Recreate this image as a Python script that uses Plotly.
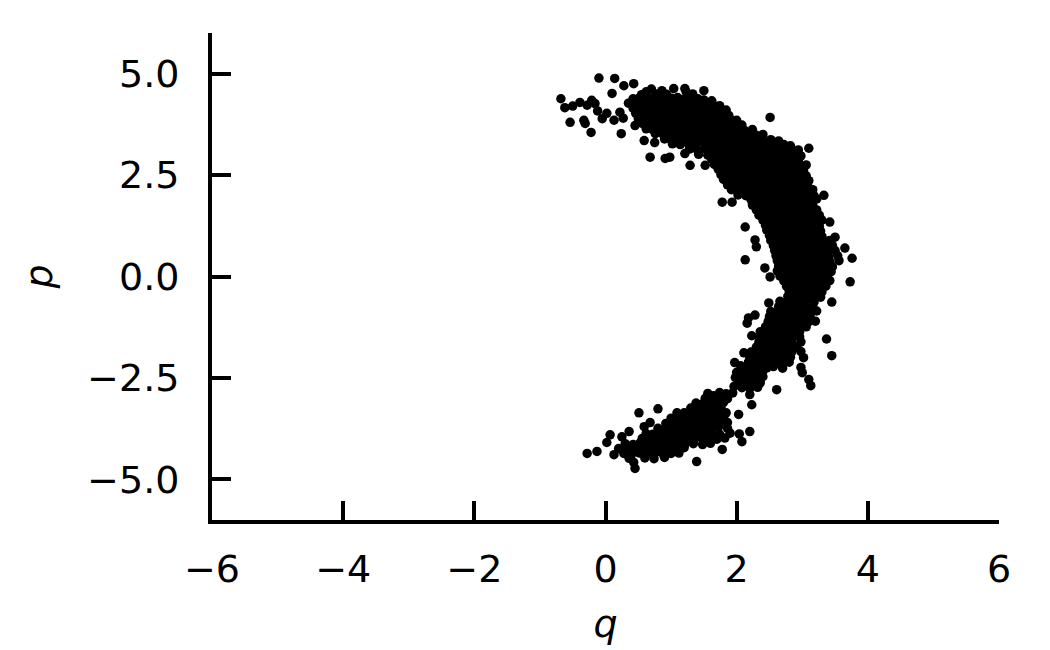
import plotly.graph_objects as go

# Samples, grouped by region of the crescent (q, p)
upper_arm = [
    (-0.68, 4.38), (-0.62, 4.16), (-0.54, 3.80), (-0.50, 4.20), (-0.39, 4.29), (-0.33, 3.85),
    (-0.31, 3.77), (-0.28, 4.22), (-0.22, 3.55), (-0.21, 4.34), (-0.16, 4.26), (-0.12, 4.08),
    (-0.10, 4.89), (-0.05, 3.89), (0.02, 4.02), (0.10, 4.51), (0.13, 3.85), (0.14, 4.88),
    (0.22, 4.05), (0.24, 3.52), (0.27, 3.90), (0.28, 4.70), (0.43, 4.75), (0.45, 3.72),
    (0.59, 3.35), (0.68, 2.94), (0.75, 3.30), (0.91, 2.91), (0.98, 2.94), (1.04, 4.63),
    (1.21, 4.63), (1.21, 3.03), (1.29, 2.74), (1.50, 4.58), (1.52, 2.74), (2.51, 3.92),
    (3.10, 3.16), (1.78, 1.83), (1.93, 1.83), (3.33, 2.00),
    (0.55, 4.48), (0.62, 4.55), (0.70, 4.62), (0.78, 4.50), (0.86, 4.58), (0.93, 4.49),
    (1.23, 4.55), (1.33, 4.50),
    (0.42, 4.38), (0.52, 4.41), (0.61, 4.36), (0.71, 4.40), (0.80, 4.42), (0.90, 4.37),
    (1.01, 4.39), (1.10, 4.41), (1.19, 4.36), (1.30, 4.40), (1.41, 4.38), (1.50, 4.35), (1.62, 4.33),
    (0.35, 4.27), (0.45, 4.25), (0.55, 4.29), (0.64, 4.26), (0.74, 4.28), (0.84, 4.24),
    (0.94, 4.27), (1.04, 4.29), (1.14, 4.25), (1.24, 4.28), (1.34, 4.26), (1.44, 4.24),
    (1.54, 4.27), (1.64, 4.23), (1.74, 4.21),
    (0.42, 4.15), (0.52, 4.13), (0.62, 4.16), (0.72, 4.14), (0.82, 4.17), (0.92, 4.13),
    (1.02, 4.15), (1.12, 4.16), (1.22, 4.13), (1.32, 4.15), (1.42, 4.17), (1.52, 4.13),
    (1.62, 4.15), (1.72, 4.12), (1.84, 4.10),
    (0.46, 4.02), (0.56, 4.00), (0.66, 4.03), (0.76, 4.01), (0.86, 4.04), (0.96, 4.00),
    (1.06, 4.02), (1.16, 4.03), (1.26, 4.00), (1.36, 4.02), (1.46, 4.04), (1.56, 4.00),
    (1.66, 4.02), (1.76, 3.99), (1.88, 3.97),
    (0.50, 3.89), (0.60, 3.87), (0.70, 3.90), (0.80, 3.88), (0.90, 3.91), (1.00, 3.87),
    (1.10, 3.89), (1.20, 3.90), (1.30, 3.87), (1.40, 3.89), (1.50, 3.91), (1.60, 3.87),
    (1.70, 3.89), (1.80, 3.86), (1.90, 3.88), (2.00, 3.85),
    (0.56, 3.77), (0.66, 3.75), (0.76, 3.78), (0.86, 3.76), (0.96, 3.79), (1.06, 3.75),
    (1.16, 3.77), (1.26, 3.78), (1.36, 3.75), (1.46, 3.77), (1.56, 3.79), (1.66, 3.75),
    (1.76, 3.77), (1.86, 3.74), (1.96, 3.76), (2.08, 3.73),
    (0.62, 3.64), (0.72, 3.62), (0.82, 3.65), (0.92, 3.63), (1.02, 3.66), (1.12, 3.62),
    (1.22, 3.64), (1.32, 3.65), (1.42, 3.62), (1.52, 3.64), (1.62, 3.66), (1.72, 3.62),
    (1.82, 3.64), (1.92, 3.61), (2.02, 3.63), (2.12, 3.60), (2.24, 3.62),
    (0.76, 3.52), (0.88, 3.50), (0.98, 3.53), (1.08, 3.51), (1.18, 3.54), (1.28, 3.50),
    (1.38, 3.52), (1.48, 3.53), (1.58, 3.50), (1.68, 3.52), (1.78, 3.54), (1.88, 3.50),
    (1.98, 3.52), (2.08, 3.49), (2.18, 3.51), (2.30, 3.48), (2.40, 3.50),
    (0.90, 3.39), (1.00, 3.37), (1.10, 3.40), (1.20, 3.38), (1.30, 3.41), (1.40, 3.37),
    (1.50, 3.39), (1.60, 3.40), (1.70, 3.37), (1.80, 3.39), (1.90, 3.41), (2.00, 3.37),
    (2.10, 3.39), (2.20, 3.36), (2.30, 3.38), (2.40, 3.35), (2.52, 3.37), (2.64, 3.34),
    (1.02, 3.27), (1.14, 3.25), (1.26, 3.28), (1.38, 3.26), (1.50, 3.29), (1.60, 3.25),
    (1.70, 3.27), (1.80, 3.28), (1.90, 3.25), (2.00, 3.27), (2.10, 3.29), (2.20, 3.25),
    (2.30, 3.27), (2.40, 3.24), (2.50, 3.26), (2.60, 3.23), (2.72, 3.25), (2.82, 3.22),
    (1.28, 3.14), (1.40, 3.12), (1.52, 3.15), (1.62, 3.13), (1.72, 3.16), (1.82, 3.12),
    (1.92, 3.14), (2.02, 3.15), (2.12, 3.12), (2.22, 3.14), (2.32, 3.16), (2.42, 3.12),
    (2.52, 3.14), (2.62, 3.11), (2.72, 3.13), (2.84, 3.10), (2.94, 3.12),
    (1.42, 3.01), (1.56, 2.99), (1.66, 3.02), (1.76, 3.00), (1.86, 3.03), (1.96, 2.99),
    (2.06, 3.01), (2.16, 3.02), (2.26, 2.99), (2.36, 3.01), (2.46, 3.03), (2.56, 2.99),
    (2.66, 3.01), (2.76, 2.98), (2.88, 3.00), (2.98, 2.97),
    (1.62, 2.89), (1.72, 2.87), (1.82, 2.90), (1.92, 2.88), (2.02, 2.91), (2.12, 2.87),
    (2.22, 2.89), (2.32, 2.90), (2.42, 2.87), (2.52, 2.89), (2.62, 2.91), (2.72, 2.87),
    (2.82, 2.89), (2.94, 2.86),
    (1.66, 2.76), (1.76, 2.74), (1.86, 2.77), (1.96, 2.75), (2.06, 2.78), (2.16, 2.74),
    (2.26, 2.76), (2.36, 2.77), (2.46, 2.74), (2.56, 2.76), (2.66, 2.78), (2.76, 2.74),
    (2.86, 2.76), (2.98, 2.73), (3.06, 2.75),
    (1.72, 2.64), (1.82, 2.62), (1.92, 2.65), (2.02, 2.63), (2.12, 2.66), (2.22, 2.62),
    (2.32, 2.64), (2.42, 2.65), (2.52, 2.62), (2.62, 2.64), (2.72, 2.66), (2.82, 2.62),
    (2.92, 2.64), (3.02, 2.61),
    (1.76, 2.51), (1.86, 2.49), (1.96, 2.52), (2.06, 2.50), (2.16, 2.53), (2.26, 2.49),
    (2.36, 2.51), (2.46, 2.52), (2.56, 2.49), (2.66, 2.51), (2.76, 2.53), (2.86, 2.49),
    (2.96, 2.51), (3.06, 2.48),
    (1.80, 2.39), (1.92, 2.37), (2.02, 2.40), (2.12, 2.38), (2.22, 2.41), (2.32, 2.37),
    (2.42, 2.39), (2.52, 2.40), (2.62, 2.37), (2.72, 2.39), (2.82, 2.41), (2.92, 2.37),
    (3.02, 2.39), (3.10, 2.36),
    (1.86, 2.26), (1.98, 2.24), (2.08, 2.27), (2.18, 2.25), (2.28, 2.28), (2.38, 2.24),
    (2.48, 2.26), (2.58, 2.27), (2.68, 2.24), (2.78, 2.26), (2.88, 2.28), (2.98, 2.24), (3.08, 2.26),
    (1.92, 2.14), (2.04, 2.12), (2.16, 2.15), (2.26, 2.13), (2.36, 2.16), (2.46, 2.12),
    (2.56, 2.14), (2.66, 2.15), (2.76, 2.12), (2.86, 2.14), (2.96, 2.16), (3.06, 2.12), (3.16, 2.14),
    (2.02, 2.01), (2.14, 1.99), (2.26, 2.02), (2.36, 2.00), (2.46, 2.03), (2.56, 1.99),
    (2.66, 2.01), (2.76, 2.02), (2.86, 1.99), (2.96, 2.01), (3.06, 2.03), (3.18, 1.99),
    (2.22, 1.89), (2.32, 1.87), (2.42, 1.90), (2.52, 1.88), (2.62, 1.91), (2.72, 1.87),
    (2.82, 1.89), (2.92, 1.90), (3.02, 1.87), (3.12, 1.89), (3.22, 1.91),
    (2.24, 1.76), (2.36, 1.74), (2.46, 1.77), (2.56, 1.75), (2.66, 1.78), (2.76, 1.74),
    (2.86, 1.76), (2.96, 1.77), (3.06, 1.74), (3.16, 1.76),
    (2.30, 1.64), (2.40, 1.62), (2.50, 1.65), (2.60, 1.63), (2.70, 1.66), (2.80, 1.62),
    (2.90, 1.64), (3.00, 1.65), (3.10, 1.62), (3.22, 1.64),
    (2.34, 1.51), (2.44, 1.49), (2.54, 1.52), (2.64, 1.50), (2.74, 1.53), (2.84, 1.49),
    (2.94, 1.51), (3.04, 1.52), (3.14, 1.49), (3.26, 1.51),
]

middle = [
    (2.13, 1.22), (3.42, 1.34), (3.50, 0.97), (2.28, 0.90), (3.65, 0.70), (2.30, 0.73),
    (2.13, 0.41), (3.76, 0.45), (2.43, 0.21), (2.51, -0.01), (3.73, -0.13), (2.49, -0.65),
    (3.45, -0.63), (2.28, -0.95), (2.18, -1.02), (2.16, -1.15), (2.23, -1.46), (3.37, -1.54),
    (2.11, -1.88), (3.45, -1.95), (1.97, -2.12), (2.06, -2.20), (3.00, -2.37), (3.10, -2.54),
    (1.96, -2.71), (2.61, -2.79), (3.13, -2.69),
    (2.40, 1.39), (2.50, 1.37), (2.60, 1.40), (2.70, 1.38), (2.80, 1.41), (2.90, 1.37),
    (3.00, 1.39), (3.10, 1.40), (3.20, 1.37), (3.30, 1.39),
    (2.44, 1.26), (2.56, 1.24), (2.66, 1.27), (2.76, 1.25), (2.86, 1.28), (2.96, 1.24),
    (3.06, 1.26), (3.16, 1.27), (3.26, 1.24),
    (2.46, 1.14), (2.56, 1.12), (2.66, 1.15), (2.76, 1.13), (2.86, 1.16), (2.96, 1.12),
    (3.06, 1.14), (3.16, 1.15), (3.28, 1.12),
    (2.50, 1.01), (2.60, 0.99), (2.70, 1.02), (2.80, 1.00), (2.90, 1.03), (3.00, 0.99),
    (3.10, 1.01), (3.20, 1.02), (3.30, 0.99),
    (2.52, 0.89), (2.62, 0.87), (2.72, 0.90), (2.82, 0.88), (2.92, 0.91), (3.02, 0.87),
    (3.12, 0.89), (3.22, 0.90), (3.32, 0.87), (3.42, 0.89),
    (2.56, 0.76), (2.66, 0.74), (2.76, 0.77), (2.86, 0.75), (2.96, 0.78), (3.06, 0.74),
    (3.16, 0.76), (3.26, 0.77), (3.36, 0.74), (3.46, 0.76),
    (2.58, 0.64), (2.68, 0.62), (2.78, 0.65), (2.88, 0.63), (2.98, 0.66), (3.08, 0.62),
    (3.18, 0.64), (3.28, 0.65), (3.38, 0.62), (3.50, 0.64),
    (2.60, 0.51), (2.70, 0.49), (2.80, 0.52), (2.90, 0.50), (3.00, 0.53), (3.10, 0.49),
    (3.20, 0.51), (3.30, 0.52), (3.40, 0.49), (3.54, 0.51),
    (2.62, 0.39), (2.72, 0.37), (2.82, 0.40), (2.92, 0.38), (3.02, 0.41), (3.12, 0.37),
    (3.22, 0.39), (3.32, 0.40), (3.42, 0.37), (3.56, 0.39),
    (2.64, 0.26), (2.74, 0.24), (2.84, 0.27), (2.94, 0.25), (3.04, 0.28), (3.14, 0.24),
    (3.24, 0.26), (3.34, 0.27), (3.46, 0.24),
    (2.62, 0.14), (2.72, 0.12), (2.82, 0.15), (2.92, 0.13), (3.02, 0.16), (3.12, 0.12),
    (3.22, 0.14), (3.32, 0.15), (3.44, 0.12),
    (2.66, 0.01), (2.76, -0.01), (2.86, 0.02), (2.96, 0.00), (3.06, 0.03), (3.16, -0.01),
    (3.26, 0.01), (3.38, 0.02),
    (2.72, -0.11), (2.82, -0.13), (2.92, -0.10), (3.02, -0.12), (3.12, -0.09), (3.22, -0.13),
    (3.32, -0.11), (3.42, -0.10),
    (2.76, -0.24), (2.86, -0.26), (2.96, -0.23), (3.06, -0.25), (3.16, -0.22), (3.26, -0.26),
    (3.36, -0.24),
    (2.80, -0.36), (2.90, -0.38), (3.00, -0.35), (3.10, -0.37), (3.20, -0.34), (3.30, -0.38),
    (2.78, -0.49), (2.88, -0.51), (2.98, -0.48), (3.08, -0.50), (3.18, -0.47), (3.28, -0.51),
    (2.66, -0.61), (2.76, -0.63), (2.86, -0.60), (2.96, -0.62), (3.06, -0.59), (3.18, -0.63),
    (2.64, -0.74), (2.74, -0.76), (2.84, -0.73), (2.94, -0.75), (3.04, -0.72), (3.16, -0.76),
    (2.52, -0.86), (2.62, -0.88), (2.72, -0.85), (2.82, -0.87), (2.92, -0.84), (3.02, -0.88),
    (3.14, -0.86), (3.22, -0.85),
    (2.50, -0.99), (2.60, -1.01), (2.70, -0.98), (2.80, -1.00), (2.90, -0.97), (3.00, -1.01),
    (3.12, -0.99),
    (2.48, -1.11), (2.58, -1.13), (2.68, -1.10), (2.78, -1.12), (2.88, -1.09), (2.98, -1.13),
    (3.10, -1.11), (3.20, -1.10),
    (2.44, -1.24), (2.54, -1.26), (2.64, -1.23), (2.74, -1.25), (2.84, -1.22), (2.94, -1.26),
    (3.06, -1.24),
    (2.36, -1.36), (2.46, -1.38), (2.56, -1.35), (2.66, -1.37), (2.76, -1.34), (2.86, -1.38),
    (2.96, -1.36),
    (2.34, -1.49), (2.44, -1.51), (2.54, -1.48), (2.64, -1.50), (2.74, -1.47), (2.84, -1.51),
    (2.96, -1.49),
    (2.34, -1.61), (2.44, -1.63), (2.54, -1.60), (2.64, -1.62), (2.74, -1.59), (2.84, -1.63),
    (2.98, -1.61),
    (2.30, -1.74), (2.40, -1.76), (2.50, -1.73), (2.60, -1.75), (2.70, -1.72), (2.80, -1.76),
    (2.92, -1.74),
    (2.22, -1.86), (2.32, -1.88), (2.44, -1.85), (2.56, -1.87), (2.66, -1.84), (2.76, -1.88),
    (2.84, -1.86), (2.98, -1.85),
    (2.20, -1.99), (2.30, -2.01), (2.40, -1.98), (2.50, -2.00), (2.62, -1.97), (2.72, -2.01),
    (2.82, -1.99), (3.02, -2.00),
    (2.18, -2.11), (2.28, -2.13), (2.38, -2.10), (2.48, -2.12), (2.58, -2.09), (2.68, -2.13),
    (2.80, -2.11),
    (2.16, -2.24), (2.26, -2.26), (2.36, -2.23), (2.46, -2.25), (2.56, -2.22), (2.70, -2.26),
    (2.98, -2.24),
    (2.00, -2.36), (2.10, -2.38), (2.20, -2.35), (2.30, -2.37), (2.40, -2.34),
    (1.98, -2.49), (2.08, -2.51), (2.18, -2.48), (2.28, -2.50), (2.40, -2.47),
    (2.04, -2.61), (2.14, -2.63), (2.24, -2.60), (2.36, -2.62),
    (2.08, -2.74), (2.20, -2.76), (2.32, -2.73),
]

lower_arm = [
    (1.65, -2.94), (2.20, -2.91), (1.52, -3.08), (2.23, -3.16), (0.51, -3.36), (0.80, -3.26),
    (1.09, -3.36), (2.03, -3.40), (0.59, -3.70), (0.68, -3.60), (0.07, -3.90), (0.36, -3.82),
    (0.25, -3.95), (2.20, -3.82), (0.02, -4.09), (2.08, -4.07), (1.78, -4.26), (-0.28, -4.36),
    (-0.13, -4.31), (0.13, -4.39), (0.28, -4.26), (0.43, -4.58), (0.45, -4.73), (1.39, -4.56),
    (1.56, -2.88), (1.74, -2.86), (1.84, -2.89), (1.94, -2.87),
    (1.52, -3.00), (1.62, -3.02), (1.72, -2.99), (1.86, -3.01),
    (1.38, -3.12), (1.48, -3.14), (1.60, -3.11), (1.70, -3.13), (1.80, -3.10),
    (1.30, -3.24), (1.42, -3.26), (1.54, -3.23), (1.64, -3.25), (1.76, -3.22),
    (1.20, -3.36), (1.30, -3.38), (1.40, -3.35), (1.50, -3.37), (1.60, -3.34), (1.72, -3.38),
    (1.84, -3.36),
    (1.00, -3.49), (1.12, -3.51), (1.24, -3.48), (1.34, -3.50), (1.44, -3.47), (1.54, -3.51),
    (1.66, -3.49), (1.80, -3.48),
    (0.92, -3.62), (1.02, -3.64), (1.12, -3.61), (1.22, -3.63), (1.32, -3.60), (1.42, -3.64),
    (1.52, -3.62), (1.62, -3.61), (1.74, -3.63), (1.86, -3.60),
    (0.80, -3.74), (0.90, -3.76), (1.00, -3.73), (1.10, -3.75), (1.20, -3.72), (1.30, -3.76),
    (1.40, -3.74), (1.50, -3.73), (1.60, -3.75), (1.72, -3.72), (1.86, -3.74),
    (0.62, -3.87), (0.72, -3.89), (0.82, -3.86), (0.92, -3.88), (1.02, -3.85), (1.12, -3.89),
    (1.22, -3.87), (1.32, -3.86), (1.42, -3.88), (1.52, -3.85), (1.62, -3.87), (1.74, -3.89),
    (1.90, -3.86), (2.04, -3.88),
    (0.56, -3.99), (0.66, -4.01), (0.76, -3.98), (0.86, -4.00), (0.96, -3.97), (1.06, -4.01),
    (1.16, -3.99), (1.26, -3.98), (1.36, -4.00), (1.46, -3.97), (1.58, -3.99), (1.70, -4.01),
    (1.82, -3.98),
    (0.30, -4.12), (0.42, -4.14), (0.52, -4.11), (0.62, -4.13), (0.72, -4.10), (0.82, -4.14),
    (0.92, -4.12), (1.02, -4.11), (1.12, -4.13), (1.22, -4.10), (1.34, -4.12), (1.48, -4.14),
    (1.60, -4.11),
    (0.20, -4.24), (0.32, -4.26), (0.44, -4.23), (0.56, -4.25), (0.66, -4.22), (0.76, -4.26),
    (0.86, -4.24), (0.96, -4.23), (1.08, -4.25), (1.20, -4.22),
    (0.28, -4.36), (0.40, -4.38), (0.52, -4.35), (0.64, -4.37), (0.76, -4.34), (0.88, -4.38),
    (1.00, -4.36), (1.12, -4.35),
    (0.36, -4.48), (0.60, -4.47), (0.74, -4.49), (0.90, -4.46),
]

x_ticks = [-6, -4, -2, 0, 2, 4, 6]
x_tick_labels = ["\u22126", "\u22124", "\u22122", "0", "2", "4", "6"]
y_ticks = [-5.0, -2.5, 0.0, 2.5, 5.0]
y_tick_labels = ["\u22125.0", "\u22122.5", "0.0", "2.5", "5.0"]

samples = upper_arm + middle + lower_arm
q = [s[0] for s in samples]
p = [s[1] for s in samples]

fig = go.Figure(
    go.Scatter(
        x=q, y=p, mode="markers",
        marker=dict(size=9.5, color="black", line=dict(width=0)),
        hoverinfo="skip",
    )
)

FONT = "DejaVu Sans"
FS = 38

axis_common = dict(
    showline=True, linewidth=4, linecolor="black",
    ticks="inside", ticklen=19, tickwidth=4, tickcolor="black",
    showgrid=False, zeroline=False, mirror=False,
    tickfont=dict(family=FONT, size=FS, color="black"),
)

fig.update_layout(
    width=1050, height=650,
    margin=dict(l=204, r=59, t=25, b=138),
    plot_bgcolor="white", paper_bgcolor="white",
    showlegend=False,
    font=dict(family=FONT, size=FS, color="black"),
    xaxis=dict(
        range=[-6, 6], tickvals=x_ticks, ticktext=x_tick_labels,
        ticklabelstandoff=12,
        title=dict(text="<i>q</i>", standoff=22, font=dict(family=FONT, size=FS)),
        **axis_common,
    ),
    yaxis=dict(
        range=[-6, 6], tickvals=y_ticks, ticktext=y_tick_labels,
        ticklabelstandoff=21,
        title=dict(text="<i>p</i>", standoff=24, font=dict(family=FONT, size=FS)),
        **axis_common,
    ),
)

fig.write_html("out.html")
